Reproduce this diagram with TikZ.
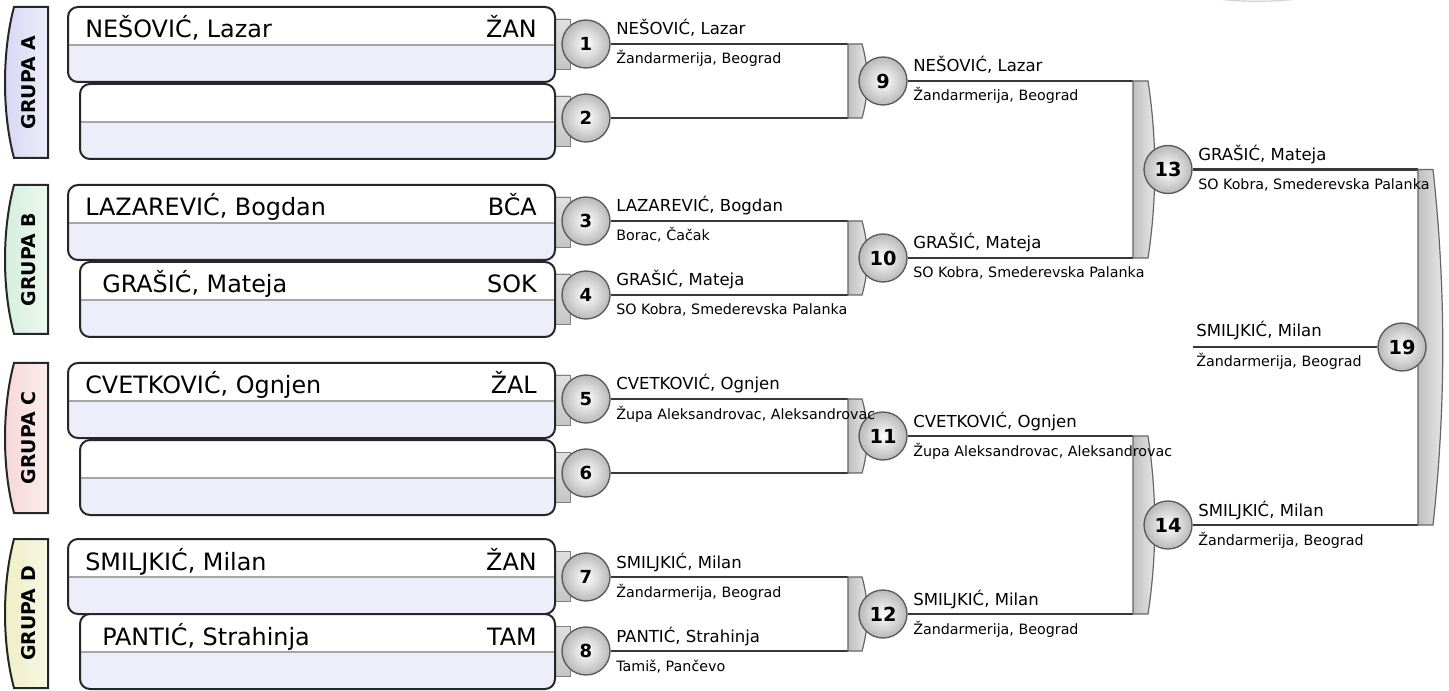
\documentclass[tikz,border=0pt]{standalone}
\usepackage{fontspec}
\setmainfont{DejaVu Sans}
\usetikzlibrary{calc}
\definecolor{boxlow}{HTML}{EEEEFA}
\definecolor{tabA}{HTML}{D6D6F4}
\definecolor{tabB}{HTML}{D4EEDC}
\definecolor{tabC}{HTML}{F6D6D6}
\definecolor{tabD}{HTML}{EEEEC4}
\tikzset{
  conn/.style={draw=black!78, line width=1.7pt},
  ball/.style={circle, minimum size=36pt, inner sep=0pt, draw=black!65, line width=1pt,
    inner color=white, outer color=gray!55},
  rone/.style={font=\bfseries\fontsize{13.5}{13.5}\selectfont},
  rtwo/.style={font=\bfseries\fontsize{14.5}{14.5}\selectfont},
  bigname/.style={inner sep=0pt, font=\fontsize{17.9}{20}\selectfont},
  smallname/.style={inner sep=0pt, anchor=base west, font=\fontsize{12.4}{14}\selectfont},
  club/.style={inner sep=0pt, anchor=base west, font=\fontsize{10.7}{12}\selectfont},
  tablabel/.style={inner sep=0pt, rotate=90, font=\bfseries\fontsize{14.2}{15}\selectfont},
  boxline/.style={draw=black!85, line width=1.5pt, rounded corners=7.5pt},
  stub/.style={draw=black!50, line width=0.7pt, top color=gray!25, bottom color=gray!45},
  brkshape/.style={draw=black!60, line width=0.9pt, left color=gray!50, right color=gray!15}
}
% group tab: name, ytop, ybot, colour, label
\newcommand\gtab[5]{%
  \path[draw=black!85, line width=1.5pt, left color=#4, right color=#4!45!white]
    (48,#2) -- (14,#2) .. controls (2,{#2+45}) and (2,{#3-45}) .. (14,#3) -- (48,#3) -- cycle;
  \node[tablabel] (#1) at (29,{(#2+#3)/2}) {#5};
}
% player box: name, x0, ytop, player, code, text x
\newcommand\pbox[6]{%
  \path[stub] (553,{#3+12}) rectangle (570,{#3+62});
  \begin{scope}
    \clip[rounded corners=7.5pt] (#2,#3) rectangle (555,{#3+75});
    \fill[white] (#2,#3) rectangle (555,{#3+75});
    \fill[boxlow] (#2,{#3+38}) rectangle (555,{#3+75});
    \draw[gray!70, line width=0.8pt] (#2,{#3+38}) -- (555,{#3+38});
  \end{scope}
  \draw[boxline] (#2,#3) rectangle (555,{#3+75});
  \node[bigname, anchor=base west] (#1n) at (#6,{#3+31}) {#4};
  \node[bigname, anchor=base east] (#1c) at (537,{#3+31}) {#5};
}
% bracket: name, x, ytop, ybot, width, bulge
\newcommand\brk[6]{%
  \path[brkshape] (#2,#3) -- ({#2+#5},#3)
    .. controls ({#2+#5+#6},{#3+(#4-#3)/3}) and ({#2+#5+#6},{#4-(#4-#3)/3}) .. ({#2+#5},#4)
    -- (#2,#4) -- cycle;
  \coordinate (#1t) at (#2,#3);
  \coordinate (#1b) at (#2,#4);
}
\begin{document}
\begin{tikzpicture}[x=0.75pt, y=-0.75pt]
\useasboundingbox (0,0) rectangle (1449,691);
\fill[white] (0,0) rectangle (1449,691);

% faint cut-off arc at top right
\draw[gray!35, line width=0.9pt] (1218,-1) .. controls (1240,2) and (1275,2) .. (1297,-1);

% group tabs
\gtab{ga}{7}{158}{tabA}{GRUPA A}
\gtab{gb}{185}{334}{tabB}{GRUPA B}
\gtab{gc}{363}{513}{tabC}{GRUPA C}
\gtab{gd}{539}{688}{tabD}{GRUPA D}

% player boxes
\pbox{pa}{68}{7}{NEŠOVIĆ, Lazar}{ŽAN}{85}
\pbox{pb}{80}{84}{}{}{97}
\pbox{pc}{68}{185}{LAZAREVIĆ, Bogdan}{BČA}{85}
\pbox{pd}{80}{262}{GRAŠIĆ, Mateja}{SOK}{102}
\pbox{pe}{68}{363}{CVETKOVIĆ, Ognjen}{ŽAL}{85}
\pbox{pf}{80}{440}{}{}{97}
\pbox{pg}{68}{539}{SMILJKIĆ, Milan}{ŽAN}{85}
\pbox{ph}{80}{614}{PANTIĆ, Strahinja}{TAM}{102}

% round 1 circles
\node[ball, rone] (m1) at (586,44) {1};
\node[ball, rone] (m2) at (586,118) {2};
\node[ball, rone] (m3) at (586,221) {3};
\node[ball, rone] (m4) at (586,295) {4};
\node[ball, rone] (m5) at (586,399) {5};
\node[ball, rone] (m6) at (586,473) {6};
\node[ball, rone] (m7) at (586,577) {7};
\node[ball, rone] (m8) at (586,651) {8};

% round 2 brackets and connectors
\draw[conn] (m1.east) -- (848,44) coordinate (e1);
\draw[conn] (m2.east) -- (848,118) coordinate (e2);
\draw[conn] (m3.east) -- (848,221) coordinate (e3);
\draw[conn] (m4.east) -- (848,295) coordinate (e4);
\draw[conn] (m5.east) -- (848,399) coordinate (e5);
\draw[conn] (m6.east) -- (848,473) coordinate (e6);
\draw[conn] (m7.east) -- (848,577) coordinate (e7);
\draw[conn] (m8.east) -- (848,651) coordinate (e8);
\brk{b9}{848}{44}{118}{14}{7}
\brk{b10}{848}{221}{295}{14}{7}
\brk{b11}{848}{399}{473}{14}{7}
\brk{b12}{848}{577}{651}{14}{7}

\node[ball, rtwo] (m9) at (883,81) {9};
\node[ball, rtwo] (m10) at (883,258) {10};
\node[ball, rtwo] (m11) at (883,436) {11};
\node[ball, rtwo] (m12) at (883,614) {12};

% round 3
\draw[conn] (m9.east) -- (1133,81) coordinate (e9);
\draw[conn] (m10.east) -- (1133,258) coordinate (e10);
\draw[conn] (m11.east) -- (1133,436) coordinate (e11);
\draw[conn] (m12.east) -- (1133,614) coordinate (e12);
\brk{b13}{1133}{81}{258}{15}{9}
\brk{b14}{1133}{436}{614}{15}{9}
\node[ball, rtwo] (m13) at (1168,169.5) {13};
\node[ball, rtwo] (m14) at (1168,525) {14};

% final
\draw[conn] (m13.east) -- (1418,169.5) coordinate (e13);
\draw[conn] (m14.east) -- (1418,525) coordinate (e14);
\brk{b19}{1418}{169.5}{525}{15}{13}
\node[ball, rtwo] (m19) at (1402,347) {19};
\coordinate (w19) at (1193,347);
\draw[conn] (w19) -- (m19.west);

% round 1 labels
\node[smallname] (n1) at (616,35) {NEŠOVIĆ, Lazar};
\node[club] (c1) at (616,64) {Žandarmerija, Beograd};
\node[smallname] (n3) at (616,212) {LAZAREVIĆ, Bogdan};
\node[club] (c3) at (616,241) {Borac, Čačak};
\node[smallname] (n4) at (616,286) {GRAŠIĆ, Mateja};
\node[club] (c4) at (616,315) {SO Kobra, Smederevska Palanka};
\node[smallname] (n5) at (616,390) {CVETKOVIĆ, Ognjen};
\node[club] (c5) at (616,419) {Župa Aleksandrovac, Aleksandrovac};
\node[smallname] (n7) at (616,568) {SMILJKIĆ, Milan};
\node[club] (c7) at (616,597) {Žandarmerija, Beograd};
\node[smallname] (n8) at (616,642) {PANTIĆ, Strahinja};
\node[club] (c8) at (616,671) {Tamiš, Pančevo};

% round 2 labels
\node[smallname] (n9) at (913,72) {NEŠOVIĆ, Lazar};
\node[club] (c9) at (913,101) {Žandarmerija, Beograd};
\node[smallname] (n10) at (913,249) {GRAŠIĆ, Mateja};
\node[club] (c10) at (913,278) {SO Kobra, Smederevska Palanka};
\node[smallname] (n11) at (913,427) {CVETKOVIĆ, Ognjen};
\node[club] (c11) at (913,456) {Župa Aleksandrovac, Aleksandrovac};
\node[smallname] (n12) at (913,605) {SMILJKIĆ, Milan};
\node[club] (c12) at (913,634) {Žandarmerija, Beograd};

% round 3 labels
\node[smallname] (n13) at (1198,160.5) {GRAŠIĆ, Mateja};
\node[club] (c13) at (1198,189.5) {SO Kobra, Smederevska Palanka};
\node[smallname] (n14) at (1198,516) {SMILJKIĆ, Milan};
\node[club] (c14) at (1198,545) {Žandarmerija, Beograd};

% final labels
\node[smallname] (n19) at (1196,337) {SMILJKIĆ, Milan};
\node[club] (c19) at (1196,367) {Žandarmerija, Beograd};
\end{tikzpicture}
\end{document}
